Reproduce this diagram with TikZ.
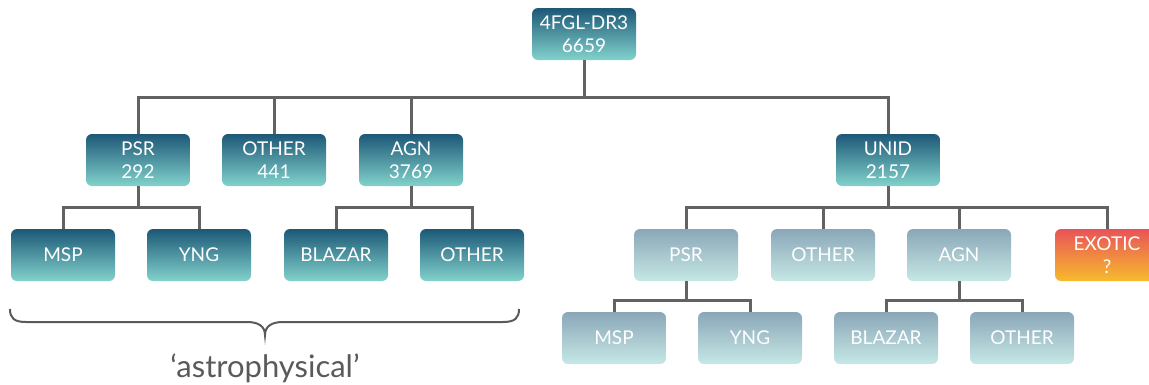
\documentclass[tikz,border=0pt]{standalone}
\usepackage{fontspec}
\setmainfont{Lato}
\definecolor{dktop}{HTML}{1D5877}
\definecolor{dkbot}{HTML}{82D2CC}
\definecolor{lttop}{HTML}{8AA7B8}
\definecolor{ltbot}{HTML}{C6E8E5}
\definecolor{extop}{HTML}{E95358}
\definecolor{exbot}{HTML}{F6BB2C}
\definecolor{conncol}{HTML}{626262}
\definecolor{bracecol}{HTML}{5A5A5A}
\tikzset{
  box/.style={rounded corners=6pt, minimum width=104pt, minimum height=52pt,
    inner sep=0pt, text=white, align=center, font=\fontsize{19}{23}\selectfont},
  dkbox/.style={box, top color=dktop, bottom color=dkbot},
  ltbox/.style={box, top color=lttop, bottom color=ltbot},
  exbox/.style={box, top color=extop, bottom color=exbot},
  conn/.style={draw=conncol, line width=3pt, line join=miter},
}
\begin{document}
\begin{tikzpicture}[x=1pt, y=-1pt]
\useasboundingbox (0,0) rectangle (1149,384);

% bus lines of the tree
\coordinate (b0) at (584,97);
\coordinate (b1) at (138,207);
\coordinate (b2) at (411,207);
\coordinate (b3) at (888,207);
\coordinate (b4) at (686,300);
\coordinate (b5) at (959,300);

% catalogue root
\node[dkbox] (root) at (584,34) {4FGL-DR3\\6659};

% first level
\node[dkbox] (psr)  at (138,160) {PSR\\292};
\node[dkbox] (oth)  at (274,160) {OTHER\\441};
\node[dkbox] (agn)  at (411,160) {AGN\\3769};
\node[dkbox] (unid) at (888,160) {UNID\\2157};

% classified sources
\node[dkbox] (msp)  at (63,255)  {MSP};
\node[dkbox] (yng)  at (199,255) {YNG};
\node[dkbox] (blz)  at (336,255) {BLAZAR};
\node[dkbox] (oth2) at (472,255) {OTHER};

% unassociated sources
\node[ltbox] (upsr) at (686,255)  {PSR};
\node[ltbox] (uoth) at (823,255)  {OTHER};
\node[ltbox] (uagn) at (959,255)  {AGN};
\node[exbox] (exo)  at (1107,255) {EXOTIC\\?};

\node[ltbox] (umsp)  at (614,338)  {MSP};
\node[ltbox] (uyng)  at (750,338)  {YNG};
\node[ltbox] (ublz)  at (886,338)  {BLAZAR};
\node[ltbox] (uoth2) at (1022,338) {OTHER};

% connectors
\draw[conn] (root.south) -- (b0);
\draw[conn] (psr.north) -- (psr.north |- b0) -- (unid.north |- b0) -- (unid.north);
\draw[conn] (oth.north) -- (oth.north |- b0);
\draw[conn] (agn.north) -- (agn.north |- b0);

\draw[conn] (psr.south) -- (b1);
\draw[conn] (msp.north) -- (msp.north |- b1) -- (yng.north |- b1) -- (yng.north);
\draw[conn] (agn.south) -- (b2);
\draw[conn] (blz.north) -- (blz.north |- b2) -- (oth2.north |- b2) -- (oth2.north);

\draw[conn] (unid.south) -- (b3);
\draw[conn] (upsr.north) -- (upsr.north |- b3) -- (exo.north |- b3) -- (exo.north);
\draw[conn] (uoth.north) -- (uoth.north |- b3);
\draw[conn] (uagn.north) -- (uagn.north |- b3);

\draw[conn] (upsr.south) -- (b4);
\draw[conn] (umsp.north) -- (umsp.north |- b4) -- (uyng.north |- b4) -- (uyng.north);
\draw[conn] (uagn.south) -- (b5);
\draw[conn] (ublz.north) -- (ublz.north |- b5) -- (uoth2.north |- b5) -- (uoth2.north);

% brace under the classified sources
\coordinate (brl) at (10,309);
\coordinate (brr) at (519,309);
\coordinate (brt) at (265,335);
\draw[draw=bracecol, line width=2pt]
  (brl) .. controls (10,318) and (14,322) .. (26,322)
  -- (247,322) .. controls (258,322) and (265,326) .. (brt)
  .. controls (265,326) and (272,322) .. (283,322)
  -- (503,322) .. controls (515,322) and (519,318) .. (brr);
\node[text=bracecol, font=\fontsize{31}{36}\selectfont, anchor=base] (astro) at (265,377) {‘astrophysical’};
\end{tikzpicture}
\end{document}
